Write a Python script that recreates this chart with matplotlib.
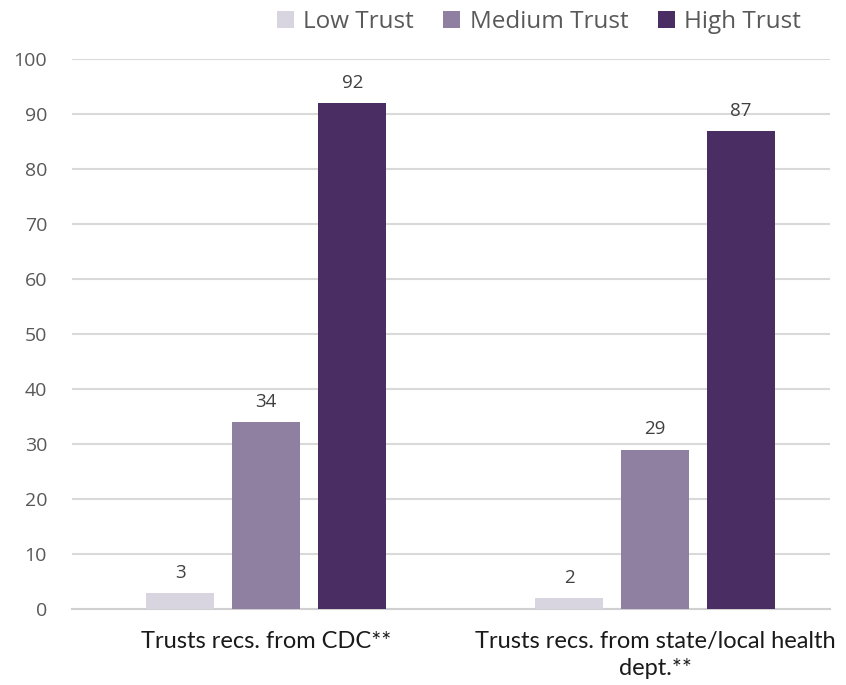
import matplotlib
matplotlib.use("Agg")
import matplotlib.pyplot as plt
import numpy as np

categories = ["Trusts recs. from CDC**", "Trusts recs. from state/local health\ndept.**"]
series_names = ["Low Trust", "Medium Trust", "High Trust"]
low_trust = [3, 2]
medium_trust = [34, 29]
high_trust = [92, 87]
yticks = [0, 10, 20, 30, 40, 50, 60, 70, 80, 90, 100]

colors = ["#d9d5e0", "#8f80a1", "#4a2d63"]
text_color = "#595959"

plt.rcParams["font.family"] = ["Open Sans", "DejaVu Sans"]

W, H = 846, 685
fig = plt.figure(figsize=(W / 100, H / 100), dpi=100)
# axes area in pixels: left 72, right 830, y=0 at 609, y=100 at 59
left, right = 72, 830
y0, y100 = 609, 59
ymax = 100
ax = fig.add_axes([left / W, 1 - y0 / H, (right - left) / W, (y0 - y100) / H])

x = np.arange(len(categories))
width = 0.175
offset = 0.221
series = [low_trust, medium_trust, high_trust]
for i, (name, vals, c) in enumerate(zip(series_names, series, colors)):
    pos = x + (i - 1) * offset
    bars = ax.bar(pos, vals, width, color=c, label=name, zorder=3)
    for b, v in zip(bars, vals):
        ax.text(b.get_x() + b.get_width() / 2, v + 2.0, str(v), ha="center",
                va="bottom", fontsize=13.5, color="#404040")

ax.set_xlim(-0.5, 1.45)
ax.set_ylim(0, ymax)
ax.set_yticks(yticks)
ax.yaxis.grid(True, color="#d9d9d9", linewidth=1.5, zorder=0)
ax.set_axisbelow(True)
for s in ["top", "right", "left"]:
    ax.spines[s].set_visible(False)
ax.spines["bottom"].set_color("#d0d0d0")
ax.spines["bottom"].set_linewidth(1.5)
ax.tick_params(axis="y", length=0, labelsize=14, labelcolor=text_color, pad=18)
ax.tick_params(axis="x", length=0, pad=16)
ax.set_xticks(x)
ax.set_xticklabels(categories, fontsize=17, color="#1a1a1a",
                   family=["Liberation Sans Narrow", "Lato", "DejaVu Sans"],
                   linespacing=1.35)

fig.legend(loc="upper center", bbox_to_anchor=(0.637, 1.017), ncol=3, frameon=False,
           fontsize=17.5, handlelength=0.7, handleheight=0.7, handletextpad=0.4,
           columnspacing=1.2, labelcolor=text_color)

fig.savefig("out.png", dpi=100)
